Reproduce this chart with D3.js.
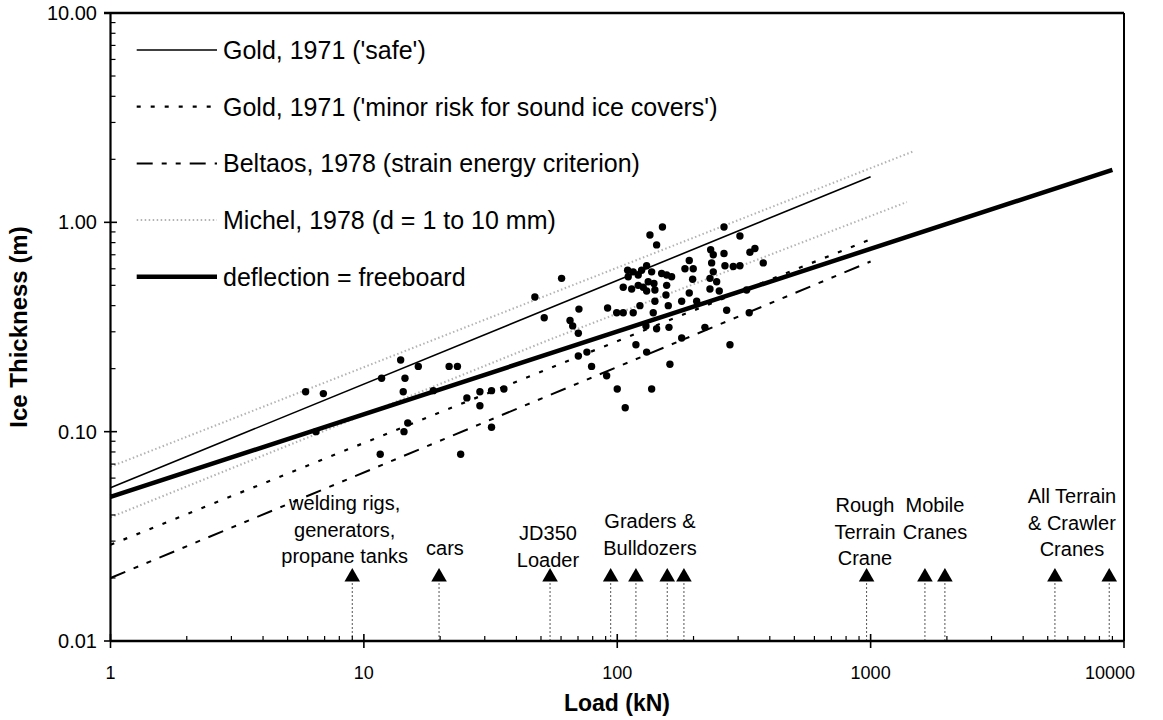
<!DOCTYPE html>
<html><head><meta charset="utf-8">
<script src="https://cdn.jsdelivr.net/npm/d3@7/dist/d3.min.js"></script>
<style>body{margin:0;background:#fff}svg{display:block}text{font-family:"Liberation Sans",Arial,sans-serif;fill:#000}</style>
</head><body><svg id="c" width="1163" height="720"></svg>
<script>
// ---- data ----
const loadTicks = [1, 10, 100, 1000, 10000];
const loadTickLabels = ["1", "10", "100", "1000", "10000"];
const thickTicks = [0.01, 0.1, 1, 10];
const thickTickLabels = ["0.01", "0.10", "1.00", "10.00"];

const goldSafe = [[1, 0.054], [1000, 1.65]];
const goldMinor = [[1, 0.0288], [1000, 0.83]];
const beltaos = [[1, 0.020], [1000, 0.65]];
const michelUpper = [[1, 0.068], [1470, 2.18]];
const michelLower = [[1, 0.039], [54, 0.275], [1390, 1.25]];
const freeboard = [[1, 0.0488], [9000, 1.78]];

const obsLoad = [5.89,6.92,6.47,11.75,13.97,14.53,14.3,16.4,21.7,23.4,18.8,25.5,28.7,31.9,35.7,28.7,14.9,14.4,11.6,24.1,31.9,
  47.3,51.5,60.3,65.1,66.7,70.2,70.6,91.6,70.2,75.9,79.2,90.8,100,136.7,107.5,118.5,130.6,161.4,179.6,221.8,278.5,270.3,331.8,
  150.8,134.6,143,263.8,304.9,333.9,349.4,376.9,233.7,239.3,235.8,239.3,263.8,266.1,287,304.9,232.2,232.2,252.7,324.1,
  192.4,185,199.5,198.4,246.8,192.4,179.6,205.8,156.7,163.9,149.7,156.7,155.7,159,139.6,140.8,140.8,136.7,130.6,124.8,121,
  115.6,109.9,110.5,105.6,114,121,126.6,132.5,130.6,122.9,115.6,105.6,99.5,138.7,129.8,143,160];
const obsThick = [0.155,0.152,0.10,0.18,0.22,0.18,0.155,0.205,0.205,0.205,0.157,0.145,0.155,0.157,0.16,0.133,0.11,0.10,0.078,0.078,0.105,
  0.44,0.35,0.54,0.34,0.32,0.295,0.385,0.39,0.23,0.24,0.205,0.185,0.16,0.16,0.13,0.26,0.24,0.21,0.28,0.315,0.26,0.38,0.37,
  0.95,0.87,0.78,0.95,0.86,0.72,0.75,0.64,0.74,0.70,0.64,0.58,0.71,0.62,0.615,0.62,0.54,0.48,0.47,0.475,
  0.657,0.60,0.60,0.535,0.52,0.46,0.42,0.42,0.56,0.55,0.57,0.50,0.45,0.40,0.51,0.475,0.42,0.58,0.62,0.59,0.56,
  0.58,0.59,0.55,0.49,0.48,0.50,0.49,0.52,0.47,0.40,0.37,0.37,0.37,0.37,0.32,0.31,0.315];

const equipLoads = [9.0, 19.8, 54.3, 94.2, 118.5, 157.5, 183.3, 964, 1638, 1964, 5338, 8744];
const equipLabelLoads = [8.4, 20.9, 53.3, 134.6, 950, 1794, 6230];
const equipLabels = [
  ["welding rigs,", "generators,", "propane tanks"],
  ["cars"],
  ["JD350", "Loader"],
  ["Graders &", "Bulldozers"],
  ["Rough", "Terrain", "Crane"],
  ["Mobile", "Cranes"],
  ["All Terrain", "& Crawler", "Cranes"]
];
const equipLabelTop = [503, 548, 533, 521, 505, 505, 496];

const legendLabels = ["Gold, 1971 ('safe')", "Gold, 1971 ('minor risk for sound ice covers')",
  "Beltaos, 1978 (strain energy criterion)", "Michel, 1978 (d = 1 to 10 mm)", "deflection = freeboard"];

// ---- chart ----
const svg = d3.select("#c");
const x = d3.scaleLog().domain([1, 10000]).range([110.5, 1124]);
const y = d3.scaleLog().domain([0.01, 10]).range([641, 13]);

const styles = [
  {stroke: "#000", w: 1.6, dash: null},
  {stroke: "#000", w: 2.2, dash: "4,10"},
  {stroke: "#000", w: 2, dash: "16,9,5,9,5,9"},
  {stroke: "#b3b3b3", w: 2, dash: "1.5,2.5"},
  {stroke: "#000", w: 4.5, dash: null}
];
const line = d3.line().x(d => x(d[0])).y(d => y(d[1]));

[michelUpper, michelLower].forEach(s => {
  svg.append("path").attr("d", line(s)).attr("fill", "none")
    .attr("stroke", styles[3].stroke).attr("stroke-width", styles[3].w).attr("stroke-dasharray", styles[3].dash);
});
[[goldSafe, 0], [goldMinor, 1], [beltaos, 2], [freeboard, 4]].forEach(([s, i]) => {
  const st = styles[i];
  svg.append("path").attr("d", line(s)).attr("fill", "none")
    .attr("stroke", st.stroke).attr("stroke-width", st.w).attr("stroke-dasharray", st.dash);
});

svg.append("g").selectAll("circle").data(d3.range(obsLoad.length)).join("circle")
  .attr("cx", i => x(obsLoad[i])).attr("cy", i => y(obsThick[i])).attr("r", 3.7).attr("fill", "#000");

const triY = 577;
const eq = svg.append("g");
eq.selectAll("line").data(equipLoads).join("line")
  .attr("x1", d => x(d)).attr("x2", d => x(d)).attr("y1", triY + 6).attr("y2", 640)
  .attr("stroke", "#555").attr("stroke-width", 1).attr("stroke-dasharray", "2,2");
eq.selectAll("path").data(equipLoads).join("path")
  .attr("d", d3.symbol(d3.symbolTriangle).size(105))
  .attr("transform", d => `translate(${x(d)},${triY})`).attr("fill", "#000");
equipLabels.forEach((lines, i) => {
  lines.forEach((t, j) => {
    svg.append("text").attr("x", x(equipLabelLoads[i])).attr("y", equipLabelTop[i] + j * 26.5)
      .attr("dy", "0.35em").attr("text-anchor", "middle").attr("font-size", 20).text(t);
  });
});

const ax = svg.append("g");
const minorX = [];
for (let d = 1; d < 10000; d *= 10) for (let k = 2; k <= 9; k++) minorX.push(d * k);
const minorY = [];
for (let d = 0.01; d < 9; d *= 10) for (let k = 2; k <= 9; k++) minorY.push(d * k);
ax.selectAll(".mx").data(minorX).join("line").attr("x1", d => x(d)).attr("x2", d => x(d))
  .attr("y1", 641).attr("y2", 636).attr("stroke", "#000").attr("stroke-width", 1.2);
ax.selectAll(".my").data(minorY).join("line").attr("y1", d => y(d)).attr("y2", d => y(d))
  .attr("x1", 110.5).attr("x2", 115.5).attr("stroke", "#000").attr("stroke-width", 1.2);
ax.selectAll(".Mx").data(loadTicks).join("line").attr("x1", d => x(d)).attr("x2", d => x(d))
  .attr("y1", 634).attr("y2", 648).attr("stroke", "#000").attr("stroke-width", 1.6);
ax.selectAll(".My").data(thickTicks).join("line").attr("y1", d => y(d)).attr("y2", d => y(d))
  .attr("x1", 104).attr("x2", 117).attr("stroke", "#000").attr("stroke-width", 1.6);
svg.append("line").attr("x1", 110.5).attr("x2", 1124).attr("y1", 641).attr("y2", 641).attr("stroke", "#000").attr("stroke-width", 2.4);
svg.append("line").attr("x1", 110.5).attr("x2", 110.5).attr("y1", 13).attr("y2", 641).attr("stroke", "#000").attr("stroke-width", 2.2);
svg.append("line").attr("x1", 104).attr("x2", 1124).attr("y1", 13).attr("y2", 13).attr("stroke", "#000").attr("stroke-width", 2.6);
svg.append("line").attr("x1", 1124).attr("x2", 1124).attr("y1", 13).attr("y2", 641).attr("stroke", "#000").attr("stroke-width", 2);

ax.selectAll(".lx").data(loadTicks).join("text")
  .attr("x", (d, i) => i === loadTicks.length - 1 ? x(d) + 11 : x(d))
  .attr("text-anchor", (d, i) => i === loadTicks.length - 1 ? "end" : "middle")
  .attr("y", 673).attr("dy", "0.35em").attr("font-size", 18).text((d, i) => loadTickLabels[i]);
ax.selectAll(".ly").data(thickTicks).join("text").attr("x", 97).attr("y", d => y(d))
  .attr("dy", "0.35em").attr("text-anchor", "end").attr("font-size", 20).text((d, i) => thickTickLabels[i]);

svg.append("text").attr("x", 617).attr("y", 703).attr("dy", "0.35em").attr("text-anchor", "middle")
  .attr("font-size", 23).attr("font-weight", "bold").text("Load (kN)");
svg.append("text").attr("transform", "translate(19,327) rotate(-90)").attr("dy", "0.35em")
  .attr("text-anchor", "middle").attr("font-size", 24).attr("font-weight", "bold").text("Ice Thickness (m)");

const lg = svg.append("g");
legendLabels.forEach((t, i) => {
  const yy = 50 + i * 56.7;
  const st = styles[i];
  lg.append("line").attr("x1", 136.7).attr("x2", 217).attr("y1", yy).attr("y2", yy)
    .attr("stroke", st.stroke).attr("stroke-width", st.w).attr("stroke-dasharray", st.dash);
  lg.append("text").attr("x", 223).attr("y", yy).attr("dy", "0.36em").attr("font-size", 25).text(t);
});
</script></body></html>
